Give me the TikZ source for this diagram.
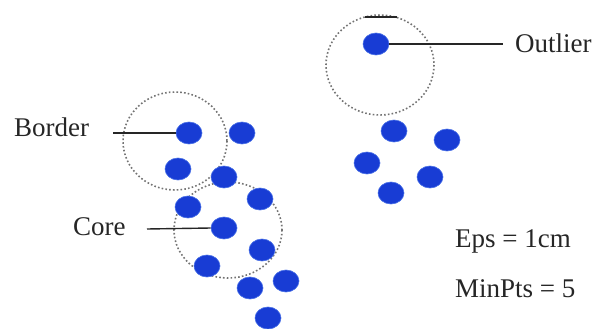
\documentclass[tikz,border=0pt]{standalone}
\usepackage{fontspec}
\setmainfont{Liberation Serif}
\usetikzlibrary{shapes.geometric}
\definecolor{dotblue}{RGB}{24,60,212}
\definecolor{edgeblue}{RGB}{70,110,230}
\begin{document}
\begin{tikzpicture}[x=1pt,y=-1pt,
  pt/.style={ellipse, minimum width=26pt, minimum height=22pt, inner sep=0pt, fill=dotblue, draw=edgeblue, line width=0.6pt},
  eps/.style={draw=black!55, line width=1.6pt, dash pattern=on 1.6pt off 2.2pt},
  lbl/.style={font=\fontsize{27}{30}\selectfont, anchor=base west, inner sep=0pt, text=black!85},
  lead/.style={draw=black!85, line width=1.4pt}]
\useasboundingbox (0,0) rectangle (605,329);
% circles
\draw[eps] (175,141) ellipse [x radius=52, y radius=49];
\draw[eps] (228,230) ellipse [x radius=54, y radius=48];
\draw[eps] (380,65) ellipse [x radius=54, y radius=50];
\coordinate (ta) at (365,17);
\coordinate (tb) at (397,17);
\draw[lead] (ta) -- (tb);
% points
\node[pt] (b) at (189,133) {};
\node[pt] (p1) at (242,133) {};
\node[pt] (p2) at (178,169) {};
\node[pt] (p3) at (224,177) {};
\node[pt] (p4) at (188,207) {};
\node[pt] (p5) at (260,199) {};
\node[pt] (c) at (224,228) {};
\node[pt] (p6) at (262,250) {};
\node[pt] (p7) at (207,266) {};
\node[pt] (p8) at (250,288) {};
\node[pt] (p9) at (286,281) {};
\node[pt] (p10) at (268,318) {};
\node[pt] (o) at (376,44) {};
\node[pt] (q1) at (394,131) {};
\node[pt] (q2) at (447,140) {};
\node[pt] (q3) at (367,163) {};
\node[pt] (q4) at (430,177) {};
\node[pt] (q5) at (391,193) {};
% labels
\node[lbl] (bl) at (14,136) {Border};
\node[lbl] (cl) at (73,235) {Core};
\node[lbl] (ol) at (515,53) {Outlier};
\node[lbl] (el) at (455,247) {Eps = 1cm};
\node[lbl] (ml) at (455,297) {MinPts = 5};
% leaders
\coordinate (bs) at (113,133);
\coordinate (cs) at (147,229);
\coordinate (os) at (503,44);
\draw[lead] (bs) -- (b.west);
\draw[lead] (cs) -- (c.west);
\draw[lead] (o.east) -- (os);
\end{tikzpicture}
\end{document}
